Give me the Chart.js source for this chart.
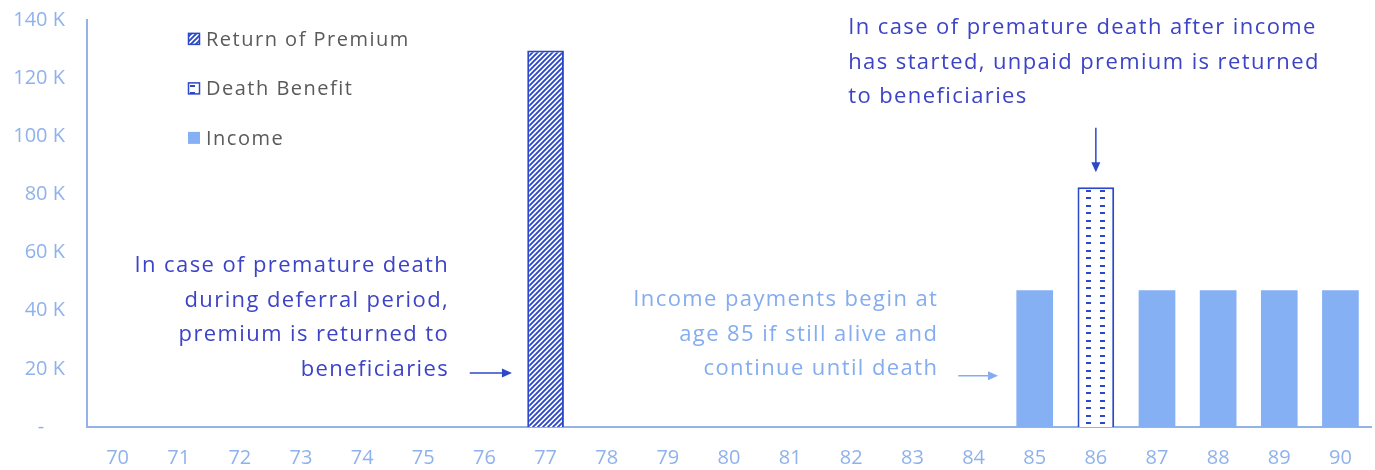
<!DOCTYPE html>
<html>
<head>
<meta charset="utf-8">
<script src="https://cdn.jsdelivr.net/npm/chart.js@4"></script>
<style>
  html, body { margin: 0; padding: 0; background: #ffffff; }
  #wrap { width: 1375px; height: 470px; }
</style>
</head>
<body>
<div id="wrap"><canvas id="chart"></canvas></div>
<script>
const ages = ['70', '71', '72', '73', '74', '75', '76', '77', '78', '79', '80',
  '81', '82', '83', '84', '85', '86', '87', '88', '89', '90'];

const returnOfPremium = [null, null, null, null, null, null, null, 129500, null, null, null,
  null, null, null, null, null, null, null, null, null, null];
const deathBenefit = [null, null, null, null, null, null, null, null, null, null, null,
  null, null, null, null, null, 82500, null, null, null, null];
const income = [null, null, null, null, null, null, null, null, null, null, null,
  null, null, null, null, 47000, null, 47000, 47000, 47000, 47000];

const seriesNames = ['Return of Premium', 'Death Benefit', 'Income'];

const DARK_BLUE = '#2a48c8';
const TEXT_BLUE = '#3d43c6';
const LIGHT_BLUE = '#86b0f4';
const AXIS_BLUE = '#93b3e6';
const LABEL_BLUE = '#8fb2ec';
const FONT = '"Open Sans", "Noto Sans", sans-serif';

// diagonal "/" stripes
function makeHatch() {
  const c = document.createElement('canvas');
  c.width = 5; c.height = 5;
  const g = c.getContext('2d');
  g.fillStyle = '#ffffff';
  g.fillRect(0, 0, 5, 5);
  g.strokeStyle = DARK_BLUE;
  g.lineWidth = 1.9;
  g.beginPath();
  g.moveTo(-1, 6); g.lineTo(6, -1);
  g.moveTo(-1, 1); g.lineTo(1, -1);
  g.moveTo(4, 6); g.lineTo(6, 4);
  g.stroke();
  return g.createPattern(c, 'repeat');
}

// short dashes, two per row across the bar
function makeDashes() {
  const c = document.createElement('canvas');
  c.width = 14; c.height = 15;
  const g = c.getContext('2d');
  g.fillStyle = '#ffffff';
  g.fillRect(0, 0, 14, 15);
  g.fillStyle = DARK_BLUE;
  g.fillRect(8, 3, 5, 2);
  g.fillRect(8, 10, 5, 2);
  return g.createPattern(c, 'repeat');
}

const ctx = document.getElementById('chart').getContext('2d');
const hatch = makeHatch();
const dashes = makeDashes();

// keep the dash rows lined up with the left edge of their bar
const alignPattern = {
  id: 'alignPattern',
  beforeDatasetsDraw(chart) {
    const bar = chart.getDatasetMeta(1).data[16];
    if (bar) {
      const left = bar.x - bar.width / 2;
      dashes.setTransform(new DOMMatrix().translate(Math.round(left), chart.chartArea.bottom));
    }
  }
};

// legend drawn as a vertical list inside the plot
const legendList = {
  id: 'legendList',
  afterDraw(chart) {
    const g = chart.ctx;
    const x = 206;
    const y0 = chart.scales.y.getPixelForValue(133500);
    g.save();
    g.font = '20px ' + FONT;
    g.letterSpacing = '1.5px';
    g.textBaseline = 'middle';
    chart.data.datasets.forEach((ds, i) => {
      const y = y0 + i * 49.5;
      g.fillStyle = ds.backgroundColor;
      g.fillRect(x - 18, y - 6, 12, 12);
      if (ds.borderWidth) {
        g.strokeStyle = ds.borderColor;
        g.lineWidth = 1.5;
        g.strokeRect(x - 17.5, y - 5.5, 11, 11);
      }
      g.fillStyle = '#5a5a5a';
      g.textAlign = 'left';
      g.fillText(ds.label, x, y + 1);
    });
    g.restore();
  }
};

const notes = [
  { lines: ['In case of premature death', 'during deferral period,', 'premium is returned to', 'beneficiaries'],
    x: 5.4, y: 55400, align: 'right', color: TEXT_BLUE },
  { lines: ['Income payments begin at', 'age 85 if still alive and', 'continue until death'],
    x: 13.4, y: 43700, align: 'right', color: '#84acef' },
  { lines: ['In case of premature death after income', 'has started, unpaid premium is returned', 'to beneficiaries'],
    x: 11.95, y: 137300, align: 'left', color: TEXT_BLUE }
];

const arrows = [
  { x1: 5.76, y1: 18600, x2: 6.45, y2: 18600, color: DARK_BLUE },
  { x1: 13.75, y1: 17600, x2: 14.4, y2: 17600, color: '#84acef' },
  { x1: 16, y1: 102900, x2: 16, y2: 87600, color: DARK_BLUE }
];

const annotations = {
  id: 'annotations',
  afterDraw(chart) {
    const g = chart.ctx;
    const sx = chart.scales.x, sy = chart.scales.y;
    g.save();
    g.font = '22px ' + FONT;
    g.letterSpacing = '1.4px';
    g.textBaseline = 'middle';
    notes.forEach(n => {
      g.fillStyle = n.color;
      g.textAlign = n.align;
      const px = sx.getPixelForValue(n.x) + (n.align === 'right' ? 1.4 : 0);
      const py = sy.getPixelForValue(n.y);
      n.lines.forEach((t, i) => g.fillText(t, px, py + i * 34.5));
    });
    arrows.forEach(a => {
      const x1 = sx.getPixelForValue(a.x1), y1 = sy.getPixelForValue(a.y1);
      const x2 = sx.getPixelForValue(a.x2), y2 = sy.getPixelForValue(a.y2);
      const ang = Math.atan2(y2 - y1, x2 - x1);
      g.strokeStyle = a.color;
      g.fillStyle = a.color;
      g.lineWidth = 1.5;
      g.beginPath();
      g.moveTo(x1, y1);
      g.lineTo(x2 - 8 * Math.cos(ang), y2 - 8 * Math.sin(ang));
      g.stroke();
      g.beginPath();
      g.moveTo(x2, y2);
      g.lineTo(x2 - 10 * Math.cos(ang) + 4.5 * Math.sin(ang), y2 - 10 * Math.sin(ang) - 4.5 * Math.cos(ang));
      g.lineTo(x2 - 10 * Math.cos(ang) - 4.5 * Math.sin(ang), y2 - 10 * Math.sin(ang) + 4.5 * Math.cos(ang));
      g.closePath();
      g.fill();
    });
    g.restore();
  }
};

new Chart(ctx, {
  type: 'bar',
  data: {
    labels: ages,
    datasets: [
      { label: seriesNames[0], data: returnOfPremium, backgroundColor: hatch,
        borderColor: DARK_BLUE, borderWidth: 2 },
      { label: seriesNames[1], data: deathBenefit, backgroundColor: dashes,
        borderColor: DARK_BLUE, borderWidth: 2 },
      { label: seriesNames[2], data: income, backgroundColor: LIGHT_BLUE, borderWidth: 0 }
    ]
  },
  options: {
    responsive: true,
    maintainAspectRatio: false,
    animation: false,
    barPercentage: 0.6,
    categoryPercentage: 1,
    layout: { padding: { top: 20, right: 4, left: 0, bottom: 0 } },
    plugins: {
      legend: { display: false },
      tooltip: { enabled: false }
    },
    scales: {
      x: {
        stacked: true,
        grid: { display: false, drawTicks: false },
        border: { display: true, color: AXIS_BLUE, width: 2 },
        ticks: { color: LABEL_BLUE, font: { family: FONT, size: 20 }, padding: 19 },
        afterFit(scale) { scale.height = 43; }
      },
      y: {
        stacked: true,
        min: 0,
        max: 140000,
        grid: { display: false, drawTicks: false },
        border: { display: true, color: AXIS_BLUE, width: 2 },
        ticks: {
          stepSize: 20000,
          color: LABEL_BLUE,
          font: { family: FONT, size: 20 },
          padding: 22,
          callback: v => v === 0 ? '-    ' : (v / 1000) + ' K'
        },
        afterFit(scale) {
          scale.width = 87;
          scale.paddingTop = 0;
          scale.paddingBottom = 0;
        }
      }
    }
  },
  plugins: [alignPattern, legendList, annotations]
});
</script>
</body>
</html>
